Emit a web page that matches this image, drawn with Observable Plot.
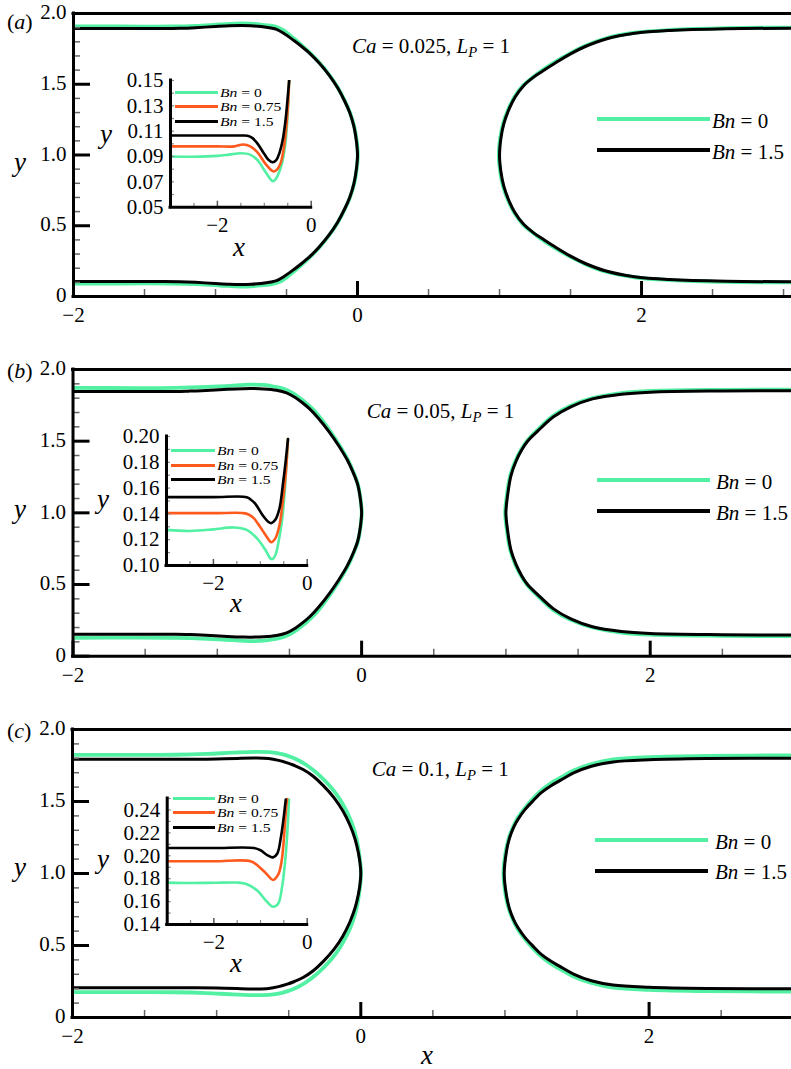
<!DOCTYPE html>
<html><head><meta charset="utf-8">
<script src="https://cdn.jsdelivr.net/npm/d3@7"></script>
<script src="https://cdn.jsdelivr.net/npm/@observablehq/plot@0.6"></script>
<style>
html,body{margin:0;padding:0;background:#fff;}
#fig{position:relative;width:791px;height:1069px;overflow:hidden;background:#fff;font-family:"Liberation Serif","Times New Roman",serif;color:#000;}
.t{position:absolute;white-space:nowrap;}
.t sub{font-size:0.7em;vertical-align:-0.28em;line-height:0;}
.sw{position:absolute;}
</style></head><body><div id="fig"></div>
<script>
// ---------- DATA ----------
// Film thickness near the bubble front (inset curves), [x, y]
const filmA0   = [[-3,0.090],[-2.5,0.0898],[-2,0.0905],[-1.75,0.0915],[-1.5,0.0926],[-1.3,0.0915],[-1.14,0.0869],[-0.97,0.0776],[-0.82,0.0705],[-0.75,0.0725],[-0.68,0.078],[-0.61,0.0865],[-0.57,0.095],[-0.54,0.1035],[-0.51,0.118],[-0.49,0.132],[-0.47,0.150]];
const filmA075 = [[-3,0.098],[-2.5,0.098],[-2,0.098],[-1.64,0.098],[-1.45,0.0995],[-1.3,0.098],[-1.14,0.093],[-0.97,0.084],[-0.80,0.0782],[-0.72,0.080],[-0.65,0.085],[-0.60,0.093],[-0.56,0.103],[-0.52,0.118],[-0.49,0.133],[-0.47,0.150]];
const filmA15  = [[-3,0.1066],[-2,0.1066],[-1.5,0.1066],[-1.36,0.1064],[-1.25,0.1045],[-1.14,0.100],[-1.0,0.092],[-0.9,0.087],[-0.82,0.0855],[-0.75,0.087],[-0.68,0.0925],[-0.61,0.1026],[-0.57,0.112],[-0.54,0.121],[-0.50,0.137],[-0.47,0.150]];
const filmB0   = [[-3,0.1276],[-2.5,0.1268],[-2,0.128],[-1.57,0.1295],[-1.29,0.1276],[-1.07,0.121],[-0.89,0.112],[-0.79,0.1057],[-0.74,0.105],[-0.68,0.108],[-0.61,0.1186],[-0.54,0.134],[-0.48,0.157],[-0.43,0.186],[-0.41,0.198]];
const filmB075 = [[-3,0.1406],[-2,0.1406],[-1.36,0.1406],[-1.25,0.1395],[-1.14,0.1367],[-0.96,0.1276],[-0.82,0.120],[-0.77,0.118],[-0.68,0.121],[-0.59,0.1315],[-0.52,0.1496],[-0.46,0.170],[-0.41,0.198]];
const filmB15  = [[-3,0.153],[-2,0.153],[-1.29,0.153],[-1.2,0.151],[-1.11,0.148],[-0.93,0.138],[-0.82,0.1336],[-0.77,0.1328],[-0.68,0.1354],[-0.59,0.1444],[-0.52,0.1625],[-0.46,0.1806],[-0.41,0.198]];
const filmC0   = [[-3,0.1766],[-2.5,0.1762],[-2,0.1764],[-1.5,0.1766],[-1.29,0.1752],[-1.07,0.1696],[-0.89,0.1611],[-0.73,0.1555],[-0.62,0.1583],[-0.54,0.1724],[-0.48,0.192],[-0.43,0.2175],[-0.39,0.249]];
const filmC075 = [[-3,0.1952],[-2,0.1952],[-1.21,0.1952],[-1.04,0.1907],[-0.89,0.185],[-0.73,0.1789],[-0.62,0.1837],[-0.55,0.1949],[-0.50,0.2146],[-0.45,0.243],[-0.43,0.250]];
const filmC15  = [[-3,0.2068],[-2,0.2068],[-1.14,0.2068],[-1.0,0.2048],[-0.857,0.2006],[-0.73,0.1986],[-0.64,0.202],[-0.57,0.2146],[-0.51,0.2315],[-0.46,0.249]];

// Bubble-front shoulder and nose in the main view, lower half, [x, y]
const capA0  = [[-0.57,0.095],[-0.52,0.12],[-0.45,0.175],[-0.4,0.218],[-0.333,0.28],[-0.268,0.348],[-0.198,0.435],[-0.138,0.525],[-0.088,0.62],[-0.053,0.7],[-0.023,0.8],[-0.006,0.9],[0.002,1.0]];
const capA15 = [[-0.57,0.112],[-0.52,0.14],[-0.45,0.19],[-0.4,0.228],[-0.333,0.285],[-0.27,0.35],[-0.2,0.435],[-0.14,0.525],[-0.09,0.62],[-0.055,0.7],[-0.025,0.8],[-0.008,0.9],[0,1.0]];
const capB0  = [[-0.54,0.134],[-0.48,0.163],[-0.43,0.198],[-0.38,0.238],[-0.335,0.28],[-0.28,0.345],[-0.215,0.435],[-0.153,0.53],[-0.095,0.63],[-0.055,0.72],[-0.026,0.8],[-0.008,0.9],[0.001,1.0]];
const capB15 = [[-0.52,0.1625],[-0.46,0.195],[-0.41,0.232],[-0.36,0.275],[-0.3,0.34],[-0.225,0.435],[-0.16,0.53],[-0.1,0.63],[-0.058,0.72],[-0.028,0.8],[-0.009,0.9],[0,1.0]];
const capC0  = [[-0.48,0.192],[-0.43,0.215],[-0.38,0.245],[-0.32,0.29],[-0.26,0.345],[-0.2,0.41],[-0.145,0.485],[-0.095,0.575],[-0.055,0.67],[-0.027,0.77],[-0.009,0.88],[0.002,1.0]];
const capC15 = [[-0.51,0.2315],[-0.46,0.25],[-0.4,0.278],[-0.33,0.325],[-0.26,0.39],[-0.185,0.475],[-0.125,0.565],[-0.075,0.665],[-0.04,0.76],[-0.018,0.85],[-0.005,0.93],[0,1.0]];

// Rear of the following bubble, lower half (nose to the right edge), [x, y]
const rearA0  = [[0.995,1.0],[1.005,0.88],[1.025,0.78],[1.06,0.68],[1.105,0.59],[1.165,0.51],[1.235,0.45],[1.295,0.405],[1.395,0.34],[1.5,0.28],[1.6,0.23],[1.75,0.175],[1.95,0.136],[2.2,0.116],[2.6,0.103],[3.1,0.099]];
const rearA15 = [[1.0,1.0],[1.01,0.88],[1.03,0.78],[1.065,0.68],[1.11,0.59],[1.17,0.51],[1.24,0.45],[1.3,0.41],[1.4,0.345],[1.5,0.285],[1.6,0.235],[1.75,0.18],[1.95,0.14],[2.2,0.12],[2.6,0.108],[3.1,0.104]];
const rearB0  = [[0.995,1.0],[1.005,0.89],[1.03,0.74],[1.065,0.64],[1.105,0.56],[1.145,0.5],[1.215,0.425],[1.325,0.325],[1.445,0.255],[1.6,0.2],[1.8,0.165],[2.0,0.15],[2.5,0.142],[3.1,0.14]];
const rearB15 = [[1.0,1.0],[1.01,0.89],[1.035,0.74],[1.07,0.64],[1.11,0.56],[1.15,0.5],[1.22,0.43],[1.33,0.33],[1.45,0.26],[1.6,0.205],[1.8,0.172],[2.0,0.158],[2.5,0.15],[3.1,0.148]];
const rearC0  = [[0.99,1.0],[1.005,0.85],[1.025,0.76],[1.055,0.68],[1.085,0.62],[1.135,0.55],[1.195,0.48],[1.245,0.43],[1.315,0.375],[1.385,0.335],[1.475,0.285],[1.6,0.24],[1.75,0.208],[2.0,0.192],[2.4,0.183],[3.1,0.18]];
const rearC15 = [[0.995,1.0],[1.01,0.85],[1.03,0.76],[1.06,0.68],[1.09,0.625],[1.14,0.555],[1.2,0.49],[1.25,0.44],[1.32,0.39],[1.39,0.35],[1.48,0.30],[1.6,0.255],[1.75,0.225],[2.0,0.21],[2.4,0.202],[3.1,0.2]];

// Panel annotations
const caLabels = ["0.025", "0.05", "0.1"];
const bnMain = ["0", "1.5"];
const bnInset = ["0", "0.75", "1.5"];

// Tick values and labels
const mainXTicks = [-2, 0, 2];
const mainXTickLabels = ["\u22122", "0", "2"];
const mainXMinor = [-1.5, -1, -0.5, 0.5, 1, 1.5, 2.5, 3];
const mainYTicks = [0, 0.5, 1, 1.5, 2];
const mainYTickLabels = ["0", "0.5", "1.0", "1.5", "2.0"];
const mainYMinor = [0.1,0.2,0.3,0.4,0.6,0.7,0.8,0.9,1.1,1.2,1.3,1.4,1.6,1.7,1.8,1.9];
const insetXTicks = [-2, 0];
const insetXTickLabels = ["\u22122", "0"];
const insetXMinor = [-2.5, -1.5, -1, -0.5];
const insetYTicksA = [0.05, 0.07, 0.09, 0.11, 0.13, 0.15];
const insetYTicksB = [0.10, 0.12, 0.14, 0.16, 0.18, 0.20];
const insetYTicksC = [0.14, 0.16, 0.18, 0.20, 0.22, 0.24];

// ---------- STYLE ----------
const GREEN = "#52f0a3", ORANGE = "#ff5a1e", BLACK = "#000";
const FONT = "Liberation Serif, Times New Roman, serif";
const fig = document.getElementById("fig");

function bubbleFront(film, cap) {
  const lower = film.filter(d => d[0] >= -2 && d[0] < cap[0][0]).concat(cap);
  const upper = lower.slice(0, -1).reverse().map(([x, y]) => [x, 2 - y]);
  return lower.concat(upper);
}
function bubbleRear(rear) {
  const upper = rear.slice(1).reverse().map(([x, y]) => [x, 2 - y]);
  return upper.concat(rear);
}
function place(svg, left, top) {
  svg.style.position = "absolute";
  svg.style.left = left + "px";
  svg.style.top = top + "px";
  fig.appendChild(svg);
}
// place text by its baseline
function txt(html, x, baseline, size, sx) {
  const d = document.createElement("div");
  d.className = "t";
  d.style.fontSize = size + "px";
  d.style.lineHeight = size + "px";
  d.style.left = x + "px";
  d.style.top = (baseline - 0.8375 * size) + "px";
  if (sx) { d.style.transform = `scaleX(${sx})`; d.style.transformOrigin = "0 0"; }
  d.innerHTML = html;
  fig.appendChild(d);
}
function swatch(x1, x2, y, color, w) {
  const d = document.createElement("div");
  d.className = "sw";
  d.style.left = x1 + "px";
  d.style.width = (x2 - x1) + "px";
  d.style.top = (y - w / 2) + "px";
  d.style.height = w + "px";
  d.style.background = color;
  fig.appendChild(d);
}
const lab = (ticks, labels) => d => labels[ticks.indexOf(d)];

const panels = [
  {key: "a", film: [filmA0, filmA075, filmA15], cap: [capA0, capA15], rear: [rearA0, rearA15],
   top: 13, ih: 283, ml: 73, xmax: 3.056, yTicks: insetYTicksA, ydom: [0.05, 0.15],
   inset: {l: 170, r: 310.7, t: 80, b: 206.7},
   lbl: {pb: 29, yb: 171.5, ca: [352, 53.5], leg: {x1: 597, x2: 710, y: [119, 150], tx: 712},
         ileg: {x1: 175, x2: 218, y0: 92, tx: 220},
         iy: [100, 144], ix: [233, 256.5]}},
  {key: "b", film: [filmB0, filmB075, filmB15], cap: [capB0, capB15], rear: [rearB0, rearB15],
   top: 369.3, ih: 286.7, ml: 72.5, xmax: 2.979, yTicks: insetYTicksB, ydom: [0.10, 0.20],
   inset: {l: 166, r: 306.7, t: 436, b: 565},
   lbl: {pb: 378, yb: 519, ca: [366.7, 419], leg: {x1: 597, x2: 710, y: [480, 511], tx: 716},
         ileg: {x1: 171, x2: 215, y0: 450.5, tx: 217},
         iy: [97, 509], ix: [230, 613]}},
  {key: "c", film: [filmC0, filmC075, filmC15], cap: [capC0, capC15], rear: [rearC0, rearC15],
   top: 729, ih: 288, ml: 72, xmax: 2.988, yTicks: insetYTicksC, ydom: [0.14, 0.25],
   inset: {l: 166.7, r: 306.7, t: 798.3, b: 924.3},
   lbl: {pb: 738, yb: 877, ca: [371.7, 777], leg: {x1: 595, x2: 708, y: [840, 870.7], tx: 715},
         ileg: {x1: 173, x2: 215, y0: 798, tx: 217},
         iy: [97, 869], ix: [230, 973]}}
];

panels.forEach((p, pi) => {
  const mt = 13, mb = 40;
  const front0 = bubbleFront(p.film[0], p.cap[0]);
  const front15 = bubbleFront(p.film[2], p.cap[1]);
  const back0 = bubbleRear(p.rear[0]);
  const back15 = bubbleRear(p.rear[1]);
  const lineOpts = (c, w) => ({x: d => d[0], y: d => d[1], stroke: c, strokeWidth: w, curve: "catmull-rom", clip: true});
  const main = Plot.plot({
    width: 791, height: mt + p.ih + mb,
    marginLeft: p.ml, marginRight: 0, marginTop: mt, marginBottom: mb,
    x: {domain: [-2, p.xmax]}, y: {domain: [0, 2]},
    style: {fontFamily: FONT, fontSize: "21px", background: "transparent", overflow: "visible", color: "#000"},
    marks: [
      Plot.line(front0, lineOpts(GREEN, 3.8)),
      Plot.line(back0, lineOpts(GREEN, 3.8)),
      Plot.line(front15, lineOpts(BLACK, 3)),
      Plot.line(back15, lineOpts(BLACK, 3)),
      Plot.axisX(mainXMinor, {tickSize: -7, stroke: "#666", strokeWidth: 1.5, fill: "none", label: null}),
      Plot.axisX(mainXTicks, {tickSize: -15, strokeWidth: 3, fill: "none", label: null}),
      Plot.axisX(mainXTicks, {tickSize: 0, tickPadding: 11, tickFormat: lab(mainXTicks, mainXTickLabels), fontSize: 21, label: null}),
      Plot.axisY(mainYMinor, {tickSize: -7, stroke: "#666", strokeWidth: 1.5, fill: "none", label: null}),
      Plot.axisY(mainYTicks, {tickSize: -17, strokeWidth: 3, fill: "none", label: null}),
      Plot.axisY(mainYTicks, {tickSize: 0, tickPadding: 7, dy: -1, tickFormat: lab(mainYTicks, mainYTickLabels), fontSize: 21, label: null}),
      Plot.ruleY([0, 2], {strokeWidth: 3, strokeLinecap: "square"}),
      Plot.ruleX([-2], {strokeWidth: 3, strokeLinecap: "square"})
    ]
  });
  place(main, 0, p.top - mt);

  // inset
  const I = p.inset, imt = 20, imb = 40, iw = 330;
  const yMinor = d3.range(Math.round(p.ydom[0] * 100), Math.round(p.ydom[1] * 100) + 1).map(v => v / 100);
  const inset = Plot.plot({
    width: iw, height: imt + (I.b - I.t) + imb,
    marginLeft: I.l, marginRight: iw - I.r, marginTop: imt, marginBottom: imb,
    x: {domain: [-3, 0]}, y: {domain: p.ydom},
    style: {fontFamily: FONT, fontSize: "21px", background: "transparent", overflow: "visible", color: "#000"},
    marks: [
      Plot.line(p.film[0], lineOpts(GREEN, 2.6)),
      Plot.line(p.film[1], lineOpts(ORANGE, 2.6)),
      Plot.line(p.film[2], lineOpts(BLACK, 2.6)),
      Plot.axisX(insetXMinor, {tickSize: -4, stroke: "#888", strokeWidth: 1.2, fill: "none", label: null}),
      Plot.axisX(insetXTicks, {tickSize: -6, stroke: "#555", strokeWidth: 1.5, fill: "none", label: null}),
      Plot.axisX(insetXTicks, {tickSize: 0, tickPadding: 10, tickFormat: lab(insetXTicks, insetXTickLabels), fontSize: 21, label: null}),
      Plot.axisY(yMinor, {tickSize: -4, stroke: "#888", strokeWidth: 1.2, fill: "none", label: null}),
      Plot.axisY(p.yTicks, {tickSize: 0, tickPadding: 7, tickFormat: d3.format(".2f"), fontSize: 21, label: null}),
      Plot.ruleY([p.ydom[0]], {strokeWidth: 3, strokeLinecap: "square"}),
      Plot.ruleX([-3], {strokeWidth: 3, strokeLinecap: "square"})
    ]
  });
  place(inset, 0, I.t - imt);

  // text annotations & legends
  const L = p.lbl;
  txt(`(<i>${p.key}</i>)`, 7, L.pb, 22);
  txt(`<i>y</i>`, 14, L.yb, 27);
  txt(`<i>Ca</i> = ${caLabels[pi]}, <i>L<sub>P</sub></i> = 1`, L.ca[0], L.ca[1], 21);
  [GREEN, BLACK].forEach((c, k) => {
    swatch(L.leg.x1, L.leg.x2, L.leg.y[k], c, 4);
    txt(`<i>Bn</i> = ${bnMain[k]}`, L.leg.tx, L.leg.y[k] + 9.3, 21);
  });
  const rowGap = 14.6, fsL = 13;
  [GREEN, ORANGE, BLACK].forEach((c, k) => {
    const yy = L.ileg.y0 + k * rowGap;
    swatch(L.ileg.x1, L.ileg.x2, yy, c, 3);
    txt(`<i>Bn</i> = ${bnInset[k]}`, L.ileg.tx, yy + 4.6, fsL, 1.2);
  });
  txt(`<i>y</i>`, L.iy[0], L.iy[1], 27);
  txt(`<i>x</i>`, L.ix[0], L.ix[1], 27);
});
txt(`<i>x</i>`, 421, 1065, 27);
</script></body></html>
